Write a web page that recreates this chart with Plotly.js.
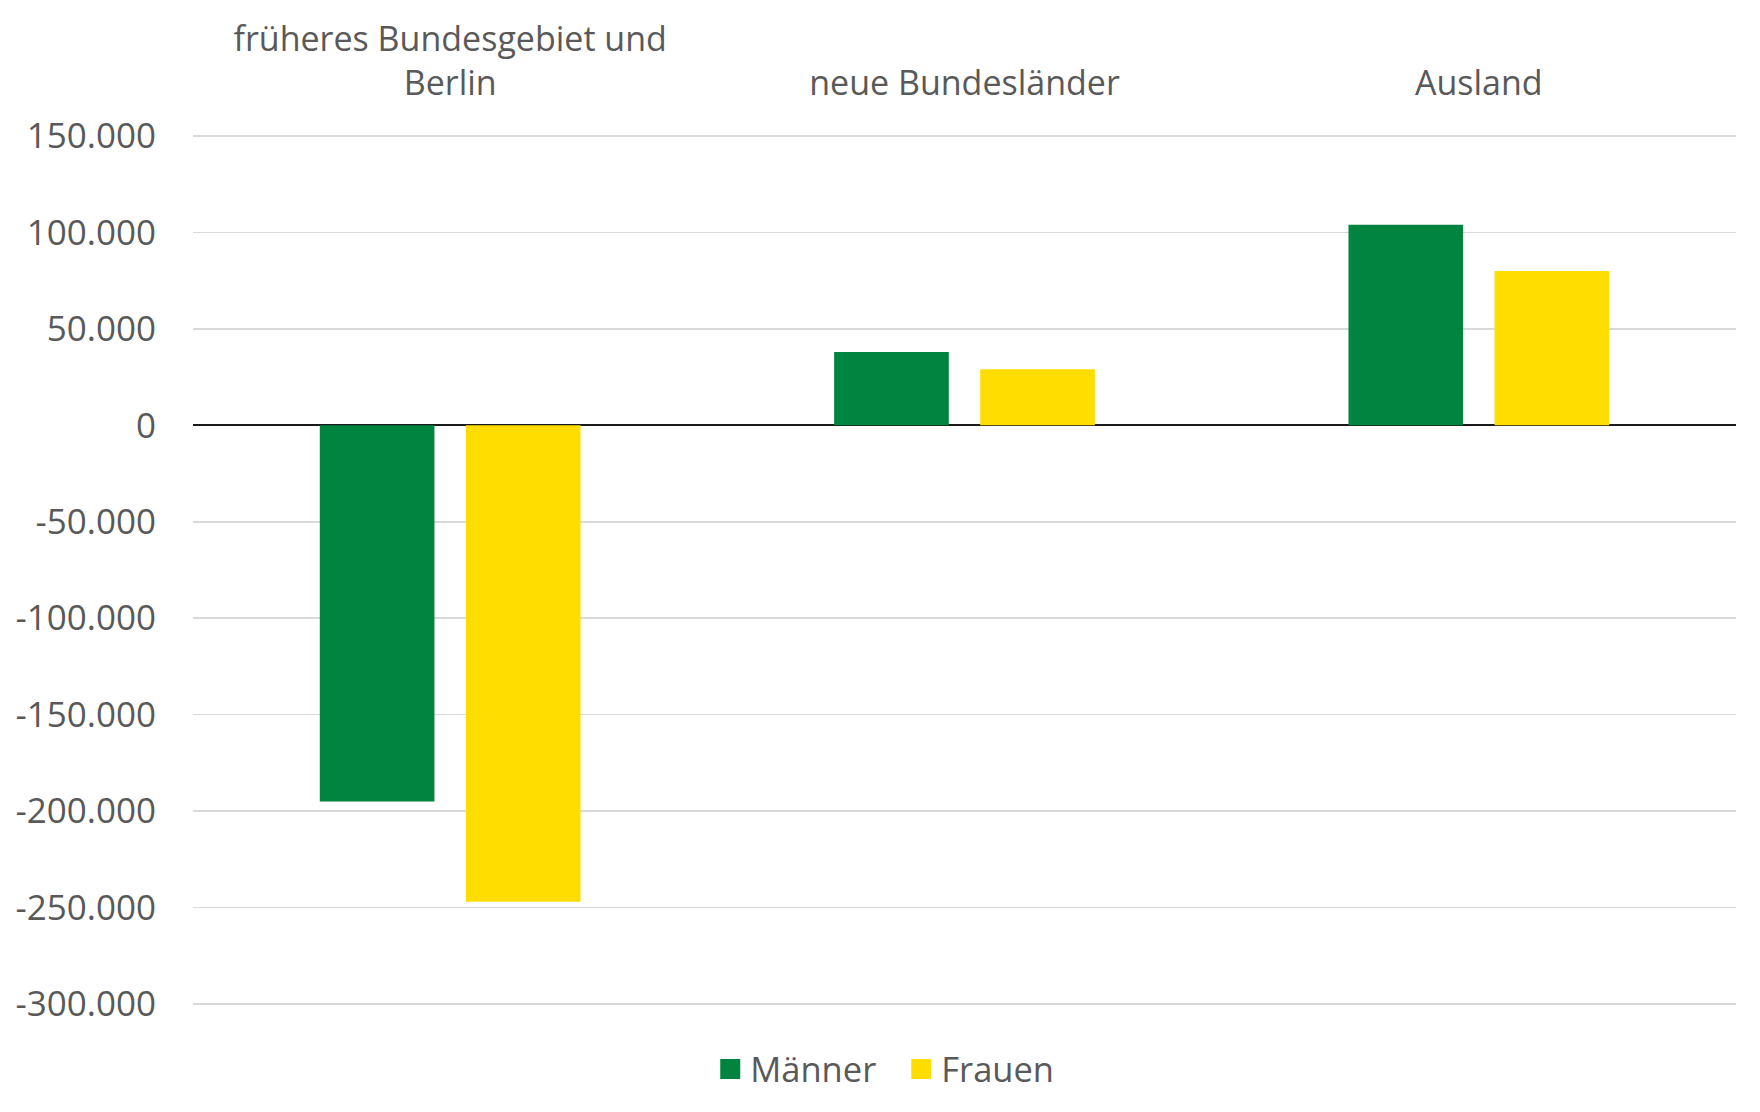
<!DOCTYPE html>
<html>
<head>
<meta charset="utf-8">
<script src="https://cdn.plot.ly/plotly-3.0.1.min.js"></script>
<style>html,body{margin:0;padding:0;background:#fff;}#chart{width:1760px;height:1112px;}</style>
</head>
<body>
<div id="chart"></div>
<script>
const categories = ["früheres Bundesgebiet und<br>Berlin", "neue Bundesländer", "Ausland"];
const maenner = [-195000, 38000, 104000];
const frauen = [-247000, 29000, 80000];
const seriesNames = ["Männer", "Frauen"];
const yTickVals = [150000, 100000, 50000, 0, -50000, -100000, -150000, -200000, -250000, -300000];
const yTickText = ["150.000", "100.000", "50.000", "0", "-50.000", "-100.000", "-150.000", "-200.000", "-250.000", "-300.000"];

const green = "#00843F";
const yellow = "#FFDD00";
const textColor = "#595959";
const font = "Open Sans, Noto Sans, sans-serif";

const traces = [
  {type: "bar", x: categories, y: maenner, name: seriesNames[0], marker: {color: green}, showlegend: false, hoverinfo: "none"},
  {type: "bar", x: categories, y: frauen, name: seriesNames[1], marker: {color: yellow}, showlegend: false, hoverinfo: "none"},
  {type: "scatter", mode: "markers", x: [null], y: [null], name: seriesNames[0], marker: {symbol: "square", size: 16, color: green, line: {color: green, width: 4}}, showlegend: true},
  {type: "scatter", mode: "markers", x: [null], y: [null], name: seriesNames[1], marker: {symbol: "square", size: 16, color: yellow, line: {color: yellow, width: 4}}, showlegend: true}
];

const layout = {
  width: 1760, height: 1112,
  margin: {l: 193, r: 24, t: 133, b: 105},
  paper_bgcolor: "#fff", plot_bgcolor: "#fff",
  font: {family: font, size: 34, color: textColor},
  barmode: "group", bargap: 0.432, bargroupgap: 0.215,
  xaxis: {
    side: "top", type: "category", showgrid: false, showline: false, zeroline: false,
    ticks: "", ticklabelstandoff: 30, tickfont: {size: 34, color: textColor}
  },
  yaxis: {
    range: [-301500, 151500], tickmode: "array", tickvals: yTickVals, ticktext: yTickText,
    showgrid: true, gridcolor: "#D9D9D9", gridwidth: 1.5,
    zeroline: true, zerolinecolor: "#1a1a1a", zerolinewidth: 2,
    showline: false, ticks: "", ticklabelstandoff: 36, tickfont: {size: 35, color: textColor}
  },
  showlegend: true,
  legend: {orientation: "h", x: 0.459, xanchor: "center", y: -0.071, yanchor: "middle",
    font: {size: 34.5, color: textColor}, itemwidth: 30, entrywidth: 146, traceorder: "normal"}
};

Plotly.newPlot("chart", traces, layout, {displayModeBar: false, staticPlot: true});
</script>
</body>
</html>
